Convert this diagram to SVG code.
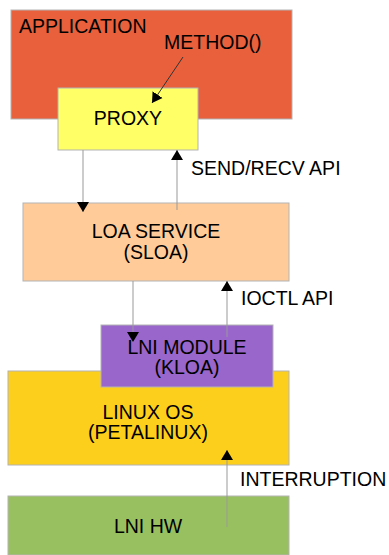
<svg xmlns="http://www.w3.org/2000/svg" width="389" height="555" viewBox="0 0 389 555">
  <style>
    .box { stroke: #b3b3b3; stroke-width: 1; }
    .lbl { font-family: "Liberation Sans", Arial, sans-serif; font-size: 19.5px; fill: #000; }
    .mid { text-anchor: middle; }
    .wire { stroke: #999; stroke-width: 1; fill: none; marker-end: url(#tip); }
  </style>
  <defs>
    <marker id="tip" markerWidth="10" markerHeight="14" refX="10" refY="7" orient="auto" markerUnits="userSpaceOnUse">
      <path d="M0,1 L10,7 L0,13 Z" fill="#000"/>
    </marker>
  </defs>
  <rect width="389" height="555" fill="#fff"/>

  <g id="application">
    <rect class="box" x="11" y="10" width="281" height="109" fill="#e8603c"/>
    <text class="lbl" x="19" y="33">APPLICATION</text>
    <text class="lbl" x="164" y="49">METHOD()</text>
  </g>

  <g id="proxy">
    <rect class="box" x="58" y="88" width="140" height="62" fill="#ffff66"/>
    <text class="lbl mid" x="128" y="125">PROXY</text>
  </g>

  <g id="loa-service">
    <rect class="box" x="23" y="203" width="266" height="78" fill="#ffcc99"/>
    <text class="lbl mid" x="156" y="238">LOA SERVICE</text>
    <text class="lbl mid" x="156" y="259">(SLOA)</text>
  </g>

  <g id="linux-os">
    <rect class="box" x="8" y="371" width="281" height="94" fill="#fdcf1d"/>
    <text class="lbl mid" x="148" y="419">LINUX OS</text>
    <text class="lbl mid" x="148" y="439">(PETALINUX)</text>
  </g>

  <g id="lni-module">
    <rect class="box" x="101" y="325" width="172" height="62" fill="#9966cc"/>
    <text class="lbl mid" x="187" y="354">LNI MODULE</text>
    <text class="lbl mid" x="187" y="374">(KLOA)</text>
  </g>

  <g id="lni-hw">
    <rect class="box" x="8" y="496" width="281" height="59" fill="#99c060"/>
    <text class="lbl mid" x="148" y="533">LNI HW</text>
  </g>

  <g id="connectors">
    <line class="wire" x1="183" y1="57" x2="152" y2="103" style="stroke:#333"/>
    <line class="wire" x1="83" y1="150" x2="83" y2="212"/>
    <line class="wire" x1="177" y1="210" x2="177" y2="150"/>
    <line class="wire" x1="133" y1="281" x2="133" y2="342"/>
    <line class="wire" x1="227" y1="337" x2="227" y2="281"/>
    <line class="wire" x1="227" y1="527" x2="227" y2="450"/>
  </g>

  <g id="connector-labels">
    <text class="lbl" x="191" y="175">SEND/RECV API</text>
    <text class="lbl" x="241" y="305">IOCTL API</text>
    <text class="lbl" x="240" y="486">INTERRUPTION</text>
  </g>
</svg>
